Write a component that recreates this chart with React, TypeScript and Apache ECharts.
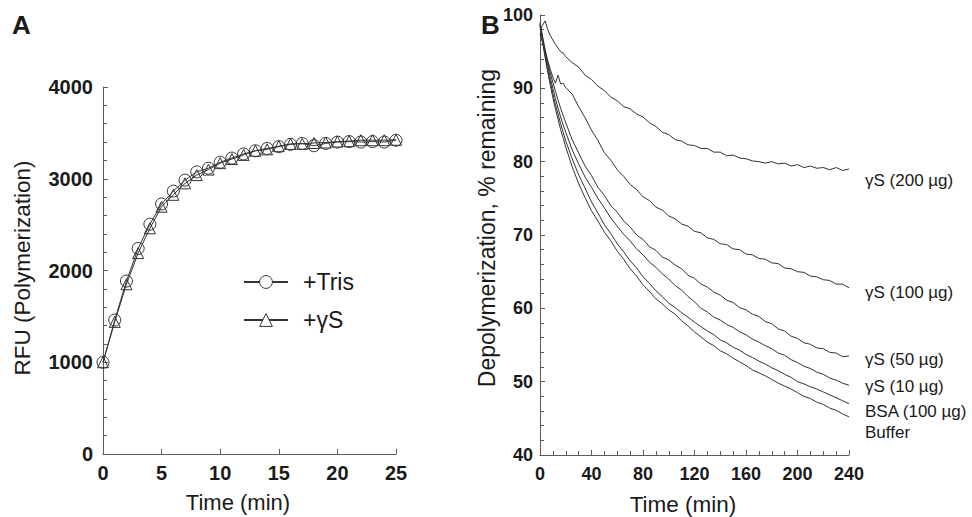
import React, { useEffect, useRef } from "react";
import * as echarts from "echarts";

// ---------- Panel A data ----------
const TIME_A = [0, 1, 2, 3, 4, 5, 6, 7, 8, 9, 10, 11, 12, 13, 14, 15, 16, 17, 18, 19, 20, 21, 22, 23, 24, 25];
const TRIS = [1000, 1460, 1885, 2240, 2505, 2725, 2865, 2985, 3075, 3115, 3180, 3225, 3270, 3305, 3330, 3350, 3375, 3385, 3360, 3385, 3400, 3405, 3400, 3405, 3400, 3420];
const GAMMA_S = [1000, 1440, 1850, 2190, 2460, 2695, 2825, 2950, 3040, 3100, 3170, 3215, 3260, 3305, 3320, 3355, 3380, 3380, 3390, 3395, 3405, 3410, 3420, 3420, 3420, 3425];
const SERIES_A_NAMES = ["+Tris", "+γS"];

// ---------- Panel B data ----------
const TIME_B = [0, 2, 4, 6, 8, 10, 12, 14, 16, 18, 20,
  25, 30, 35, 40, 45, 50, 55, 60, 65, 70, 75, 80, 85, 90, 95, 100, 105, 110, 115, 120,
  125, 130, 135, 140, 145, 150, 155, 160, 165, 170, 175, 180, 185, 190, 195, 200,
  205, 210, 215, 220, 225, 230, 235, 240];

const GS200 = [98.0, 98.6, 99.2, 98.0, 97.2, 96.6, 96.0, 95.5, 95.0, 94.8, 94.3,
  93.5, 92.9, 91.8, 91.2, 90.3, 89.7, 88.8, 88.3, 87.5, 87.2, 86.5, 86.1, 85.3, 84.8, 84.0, 83.7, 83.0, 82.8, 82.3, 82.2,
  81.8, 81.8, 81.3, 81.3, 80.8, 80.9, 80.5, 80.4, 80.1, 80.0, 79.8, 80.0, 79.7, 79.8, 79.4, 79.6,
  79.2, 79.4, 79.1, 79.2, 78.9, 79.2, 78.8, 79.0];
const GS100 = [97.5, 96.2, 95.0, 93.8, 92.6, 91.5, 90.7, 91.8, 90.6, 90.7, 90.1,
  89.2, 87.5, 86.0, 84.3, 82.9, 81.2, 80.2, 78.9, 78.0, 76.9, 76.2, 75.2, 74.7, 73.8, 73.4, 72.6, 72.2, 71.5, 71.2, 70.5,
  70.3, 69.6, 69.4, 68.8, 68.7, 68.1, 68.0, 67.4, 67.3, 66.8, 66.7, 66.2, 66.1, 65.5, 65.4, 65.0,
  64.9, 64.4, 64.3, 63.9, 63.8, 63.3, 63.3, 62.8];
const GS50 = [99.0, 97.1, 95.3, 93.6, 92.1, 90.8, 89.6, 88.4, 87.3, 86.3, 85.3,
  83.0, 81.2, 79.4, 78.1, 76.5, 75.4, 74.0, 73.1, 71.9, 71.1, 70.0, 69.4, 68.4, 67.9, 67.0, 66.6, 65.9, 65.4, 64.5, 64.1,
  63.3, 62.9, 62.2, 61.8, 61.1, 60.8, 60.1, 59.8, 59.2, 58.9, 58.2, 57.9, 57.2, 56.9, 56.2, 55.9,
  55.3, 55.1, 54.6, 54.5, 54.0, 53.9, 53.4, 53.5];
const GS10 = [98.8, 96.8, 94.9, 93.1, 91.5, 90.0, 88.6, 87.3, 86.1, 85.0, 84.0,
  81.6, 79.7, 77.9, 76.5, 75.0, 73.7, 72.3, 71.2, 70.1, 69.2, 68.1, 67.3, 66.3, 65.6, 64.7, 64.0, 63.1, 62.5, 61.6, 60.9,
  60.0, 59.5, 58.8, 58.4, 57.8, 57.4, 56.8, 56.4, 55.8, 55.4, 54.9, 54.5, 53.9, 53.6, 53.0, 52.6,
  52.1, 51.8, 51.3, 51.0, 50.5, 50.2, 49.8, 49.5];
const BSA = [98.7, 96.5, 94.5, 92.6, 90.9, 89.3, 87.8, 86.5, 85.2, 84.0, 82.8,
  80.4, 78.2, 76.4, 74.5, 73.0, 71.4, 70.2, 68.8, 67.7, 66.5, 65.5, 64.3, 63.4, 62.4, 61.6, 60.7, 60.1, 59.4, 58.8, 58.1,
  57.5, 56.9, 56.4, 55.7, 55.3, 54.7, 54.3, 53.7, 53.3, 52.8, 52.4, 51.9, 51.5, 51.0, 50.6, 50.0,
  49.7, 49.3, 49.0, 48.6, 48.2, 47.8, 47.4, 47.0];
const BUFFER = [98.5, 96.3, 94.2, 92.2, 90.4, 88.7, 87.2, 85.8, 84.4, 83.2, 82.0,
  79.3, 77.0, 75.1, 73.3, 71.9, 70.4, 69.2, 67.8, 66.7, 65.4, 64.4, 63.2, 62.3, 61.3, 60.6, 59.8, 59.2, 58.3, 57.6, 56.8,
  56.1, 55.4, 54.9, 54.2, 53.8, 53.2, 52.7, 52.2, 51.6, 51.2, 50.8, 50.3, 49.8, 49.4, 49.0, 48.5,
  48.0, 47.7, 47.2, 46.9, 46.4, 46.1, 45.6, 45.2];
const SERIES_B_NAMES = ["γS (200 µg)", "γS (100 µg)", "γS (50 µg)", "γS (10 µg)", "BSA (100 µg)", "Buffer"];
const SERIES_B_VALUES = [GS200, GS100, GS50, GS10, BSA, BUFFER];

// label vertical offsets (style only)
const END_LABEL_DY = [11, 5, 3, 1, 8, 16];

const FONT = '"Liberation Sans", Arial, Helvetica, sans-serif';
const TEXT = "#1a1a1a";
const AXIS = "#5a5a5a";
const LINE = "#333333";

function axisCommon(extra: any) {
  return {
    type: "value",
    axisLine: { show: true, onZero: false, lineStyle: { color: AXIS, width: 1 } },
    axisTick: { show: true, inside: true, length: 5, lineStyle: { color: AXIS } },
    splitLine: { show: false },
    ...extra,
  };
}

export default function App() {
  const ref = useRef<HTMLDivElement>(null);

  useEffect(() => {
    if (!ref.current) return;
    const chart = echarts.init(ref.current, null, { renderer: "svg" });

    const plain = (v: number) => String(v);
    const labelA = { fontSize: 20, fontWeight: "bold", color: TEXT, fontFamily: FONT, formatter: plain };
    const labelB = { fontSize: 18, fontWeight: "bold", color: TEXT, fontFamily: FONT, formatter: plain };

    const option: any = {
      animation: false,
      backgroundColor: "#ffffff",
      textStyle: { fontFamily: FONT },
      grid: [
        { left: 103, top: 87, width: 293, height: 367 },
        { left: 540, top: 15, width: 309, height: 440 },
      ],
      xAxis: [
        axisCommon({ gridIndex: 0, min: 0, max: 25, interval: 5, axisLabel: { ...labelA, margin: 9 } }),
        axisCommon({
          gridIndex: 1, min: 0, max: 240, interval: 40,
          minorTick: { show: true, splitNumber: 4, length: 4, lineStyle: { color: AXIS } },
          axisLabel: { ...labelB, margin: 10 },
        }),
      ],
      yAxis: [
        axisCommon({
          gridIndex: 0, min: 0, max: 4000, interval: 1000,
          minorTick: { show: true, splitNumber: 5, length: 4, lineStyle: { color: AXIS } },
          axisLabel: { ...labelA, margin: 10 },
        }),
        axisCommon({
          gridIndex: 1, min: 40, max: 100, interval: 10,
          minorTick: { show: true, splitNumber: 5, length: 4, lineStyle: { color: AXIS } },
          axisLabel: { ...labelB, margin: 7 },
        }),
      ],
      legend: {
        data: SERIES_A_NAMES.map((n) => ({ name: n, itemStyle: { color: "#ffffff", borderColor: LINE, borderWidth: 1 } })),
        orient: "vertical",
        left: 238,
        top: 264,
        itemWidth: 44,
        itemHeight: 16,
        itemGap: 12,
        textStyle: { fontSize: 23, color: TEXT, fontFamily: FONT, padding: [0, 0, 0, 10], lineHeight: 26 },
      },
      series: [
        {
          type: "line",
          name: SERIES_A_NAMES[0],
          xAxisIndex: 0,
          yAxisIndex: 0,
          data: TIME_A.map((t, i) => [t, TRIS[i]]),
          symbol: "circle",
          symbolSize: 12,
          lineStyle: { color: LINE, width: 1 },
          itemStyle: { color: "rgba(255,255,255,0)", borderColor: LINE, borderWidth: 1 },
          z: 3,
        },
        {
          type: "line",
          name: SERIES_A_NAMES[1],
          xAxisIndex: 0,
          yAxisIndex: 0,
          data: TIME_A.map((t, i) => [t, GAMMA_S[i]]),
          symbol: "triangle",
          symbolSize: 11,
          lineStyle: { color: LINE, width: 1 },
          itemStyle: { color: "rgba(255,255,255,0)", borderColor: LINE, borderWidth: 1 },
          z: 2,
        },
        ...SERIES_B_NAMES.map((name, k) => ({
          type: "line",
          name,
          xAxisIndex: 1,
          yAxisIndex: 1,
          data: TIME_B.map((t, i) => [t, SERIES_B_VALUES[k][i]]),
          showSymbol: false,
          symbol: "none",
          lineStyle: { color: LINE, width: 1 },
          endLabel: {
            show: true,
            formatter: () => name,
            distance: 16,
            offset: [0, END_LABEL_DY[k]],
            fontSize: 17,
            color: TEXT,
            fontFamily: FONT,
          },
        })),
      ],
      graphic: [
        { type: "text", x: 12, y: 25, style: { text: "A", fontSize: 26, fontWeight: "bold", fill: TEXT, fontFamily: FONT, textVerticalAlign: "middle" } },
        { type: "text", x: 481, y: 25, style: { text: "B", fontSize: 26, fontWeight: "bold", fill: TEXT, fontFamily: FONT, textVerticalAlign: "middle" } },
        { type: "text", x: 22, y: 268, rotation: Math.PI / 2, style: { text: "RFU (Polymerization)", fontSize: 22.5, fill: TEXT, fontFamily: FONT, textAlign: "center", textVerticalAlign: "middle" } },
        { type: "text", x: 238, y: 502, style: { text: "Time (min)", fontSize: 22, fill: TEXT, fontFamily: FONT, textAlign: "center", textVerticalAlign: "middle" } },
        { type: "text", x: 487, y: 228, rotation: Math.PI / 2, style: { text: "Depolymerization, % remaining", fontSize: 23, fill: TEXT, fontFamily: FONT, textAlign: "center", textVerticalAlign: "middle" } },
        { type: "text", x: 683, y: 504, style: { text: "Time (min)", fontSize: 22.5, fill: TEXT, fontFamily: FONT, textAlign: "center", textVerticalAlign: "middle" } },
      ],
    };

    chart.setOption(option);
    return () => chart.dispose();
  }, []);

  return <div ref={ref} style={{ position: "fixed", left: 0, top: 0, width: 972, height: 517 }} />;
}
